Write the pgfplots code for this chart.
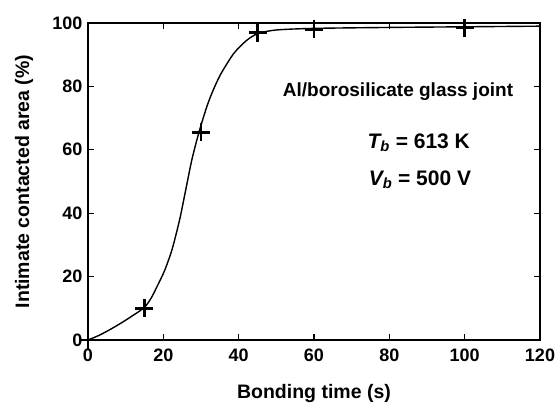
\documentclass[border=0pt]{standalone}
\usepackage{pgfplots}
\pgfplotsset{compat=1.18}
\usepackage{fontspec}
\setmainfont{Liberation Sans}
\begin{document}
\begin{tikzpicture}
\begin{axis}[
  at={(0pt,0pt)}, anchor=south west,
  scale only axis, width=452pt, height=317pt,
  xmin=0, xmax=120, ymin=0, ymax=100,
  xtick={0,20,...,120}, ytick={0,20,...,100},
  tick align=inside, major tick length=6pt,
  axis line style={line width=1.2pt}, tick style={line width=1.2pt, black},
  /pgf/number format/assume math mode=true,
  tick label style={font=\fontsize{18}{21}\selectfont\bfseries},
  xticklabel style={yshift=-5pt},
  yticklabel style={xshift=-2pt},
  xlabel={Bonding time (s)}, ylabel={Intimate contacted area (\%)},
  label style={font=\fontsize{19.5}{23}\selectfont\bfseries},
  xlabel style={at={(axis description cs:0.5,0)}, anchor=north, yshift=-41pt},
  ylabel style={at={(axis description cs:0,0.5)}, anchor=center, yshift=64pt},
  clip=false,
]
\addplot[black, line width=1.4pt, smooth, tension=0.45] coordinates {
 (0,0) (3,1.5) (6,3.4) (9,5.5) (12,7.8) (15,10.3) (16.8,13.3) (18.3,16.8)
 (20.3,21.8) (22.3,28.5) (24.3,37.8) (25.8,46.5) (27.6,57) (29.5,65.7)
 (31.6,73.8) (33.3,79) (35.3,84) (38.7,90.4) (42.2,94.6) (45.2,96.7)
 (50,97.8) (60,98.3) (80,98.6) (100,98.8) (120,99)
};
\addplot[only marks, mark=+, mark size=9pt, line width=2.6pt, black] coordinates {
 (0,0) (15,10) (30,65.5) (45,97) (60,98) (100,98.5)
};
\node[font=\fontsize{19}{22}\selectfont\bfseries] at (axis cs:82.3,78.2) {Al/borosilicate glass joint};
\node[anchor=west, font=\fontsize{21}{24}\selectfont\bfseries] at (axis cs:73.3,62.2) {\itshape T\textsubscript{\itshape b}\upshape\ = 613 K};
\node[anchor=west, font=\fontsize{21}{24}\selectfont\bfseries] at (axis cs:73.6,50.5) {\itshape V\textsubscript{\itshape b}\upshape\ = 500 V};
\end{axis}
\path[use as bounding box] (-88pt,-61pt) rectangle (471pt,340pt);
\end{tikzpicture}
\end{document}
